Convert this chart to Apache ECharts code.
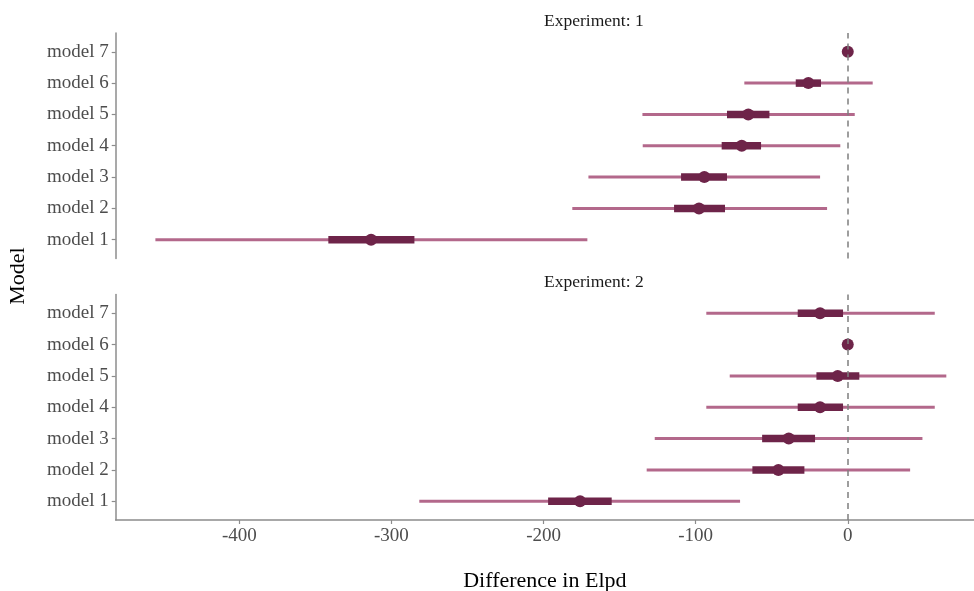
<!DOCTYPE html>
<html>
<head>
<meta charset="utf-8">
<style>
  html, body { margin: 0; padding: 0; background: #ffffff; }
  #chart { width: 974px; height: 591px; }
</style>
<script src="https://cdn.jsdelivr.net/npm/echarts@6/dist/echarts.min.js"></script>
</head>
<body>
<div id="chart"></div>
<script>
// Model rows, bottom to top (y value 1..7)
const models = ['model 1', 'model 2', 'model 3', 'model 4', 'model 5', 'model 6', 'model 7'];
const panelTitles = ['Experiment: 1', 'Experiment: 2'];
const xTicks = [-400, -300, -200, -100, 0];

// Experiment 1: point estimate, outer (thin) and inner (thick) intervals
const exp1Mid     = [-313.4, -97.8, -94.3, -69.7, -65.4, -25.9, 0];
const exp1OuterLo = [-455.2, -181.1, -170.5, -134.8, -135.0, -68.0, 0];
const exp1OuterHi = [-171.2, -13.6, -18.2, -4.9, 4.6, 16.4, 0];
const exp1InnerLo = [-341.5, -114.2, -109.6, -82.9, -79.4, -34.2, 0];
const exp1InnerHi = [-284.9, -80.7, -79.4, -57.0, -51.5, -17.6, 0];

// Experiment 2
const exp2Mid     = [-176.0, -45.6, -38.8, -18.2, -6.6, 0, -18.2];
const exp2OuterLo = [-281.7, -132.2, -126.9, -93.0, -77.6, 0, -93.0];
const exp2OuterHi = [-70.8, 41.0, 49.1, 57.2, 64.8, 0, 57.2];
const exp2InnerLo = [-197.0, -62.7, -56.3, -32.9, -20.6, 0, -32.9];
const exp2InnerHi = [-155.2, -28.5, -21.5, -3.1, 7.6, 0, -3.1];

const THIN = '#b3688b';
const THICK = '#6e2449';
const AXIS = '#8c8c8c';
const LABEL = '#4d4d4d';
const FONT = '"Liberation Serif", "DejaVu Serif", serif';

const X_MIN = -481.3, X_MAX = 83.0;
const panels = [
  { top: 33, height: 225.5 },
  { top: 294.5, height: 225.5 }
];

function segments(lo, hi) {
  return lo.map((v, i) => [i + 1, v, hi[i]]).filter(d => d[1] !== d[2]);
}

function intervalSeries(idx, lo, hi, width, color, z) {
  return {
    type: 'custom',
    xAxisIndex: idx,
    yAxisIndex: idx,
    z: z,
    silent: true,
    data: segments(lo, hi),
    encode: { x: [1, 2], y: 0 },
    renderItem: function (params, api) {
      const y = api.value(0);
      const a = api.coord([api.value(1), y]);
      const b = api.coord([api.value(2), y]);
      return {
        type: 'line',
        shape: { x1: a[0], y1: a[1], x2: b[0], y2: b[1] },
        style: { stroke: color, lineWidth: width, lineCap: 'butt' }
      };
    }
  };
}

function pointSeries(idx, mid) {
  return {
    type: 'scatter',
    xAxisIndex: idx,
    yAxisIndex: idx,
    z: 5,
    silent: true,
    symbol: 'circle',
    symbolSize: 12,
    itemStyle: { color: THICK, opacity: 1 },
    data: mid.map((v, i) => [v, i + 1]),
    markLine: {
      silent: true,
      symbol: ['none', 'none'],
      label: { show: false },
      z: 10,
      lineStyle: { color: '#7f7f7f', type: [6, 5], width: 1.5 },
      data: [{ xAxis: 0 }]
    }
  };
}

const grids = panels.map(p => ({
  left: 115.7, right: 0, top: p.top, height: p.height,
  containLabel: false, outerBoundsMode: 'none'
}));

const xAxes = panels.map((p, i) => ({
  type: 'value',
  gridIndex: i,
  min: X_MIN,
  max: X_MAX,
  splitLine: { show: false },
  axisLine: { show: i === 1, onZero: false, lineStyle: { color: AXIS, width: 1.5 } },
  axisTick: { show: i === 1, length: 4, lineStyle: { color: AXIS, width: 1.2 }, customValues: xTicks },
  axisLabel: {
    show: i === 1, color: LABEL, fontFamily: FONT, fontSize: 19, margin: 7,
    customValues: xTicks,
    formatter: v => String(v)
  },
  name: i === 1 ? 'Difference in Elpd' : '',
  nameLocation: 'middle',
  nameGap: 50,
  nameTextStyle: { color: '#000000', fontFamily: FONT, fontSize: 22 }
}));

const yTicks = models.map((m, i) => i + 1);
const yAxes = panels.map((p, i) => ({
  type: 'value',
  gridIndex: i,
  min: 0.4,
  max: 7.6,
  splitLine: { show: false },
  axisLine: { show: true, onZero: false, lineStyle: { color: AXIS, width: 1.5 } },
  axisTick: { show: true, length: 4, lineStyle: { color: AXIS, width: 1.2 }, customValues: yTicks },
  axisLabel: {
    color: LABEL, fontFamily: FONT, fontSize: 19, margin: 7,
    customValues: yTicks,
    formatter: v => models[Math.round(v) - 1] || ''
  }
}));

const series = [
  intervalSeries(0, exp1OuterLo, exp1OuterHi, 3, THIN, 2),
  intervalSeries(0, exp1InnerLo, exp1InnerHi, 7.5, THICK, 3),
  pointSeries(0, exp1Mid),
  intervalSeries(1, exp2OuterLo, exp2OuterHi, 3, THIN, 2),
  intervalSeries(1, exp2InnerLo, exp2InnerHi, 7.5, THICK, 3),
  pointSeries(1, exp2Mid)
];

const chart = echarts.init(document.getElementById('chart'), null, { renderer: 'canvas' });
chart.setOption({
  animation: false,
  backgroundColor: '#ffffff',
  grid: grids,
  xAxis: xAxes,
  yAxis: yAxes,
  series: series,
  graphic: [
    {
      type: 'text', left: 544, top: 12, z: 20,
      style: { text: panelTitles[0], fill: '#1a1a1a', font: '17.5px ' + FONT, textAlign: 'center' }
    },
    {
      type: 'text', left: 544, top: 273, z: 20,
      style: { text: panelTitles[1], fill: '#1a1a1a', font: '17.5px ' + FONT, textAlign: 'center' }
    },
    {
      type: 'text', x: 18, y: 276, rotation: Math.PI / 2, z: 20,
      style: { text: 'Model', fill: '#000000', font: '22px ' + FONT, textAlign: 'center', textVerticalAlign: 'middle' }
    }
  ]
});
</script>
</body>
</html>
